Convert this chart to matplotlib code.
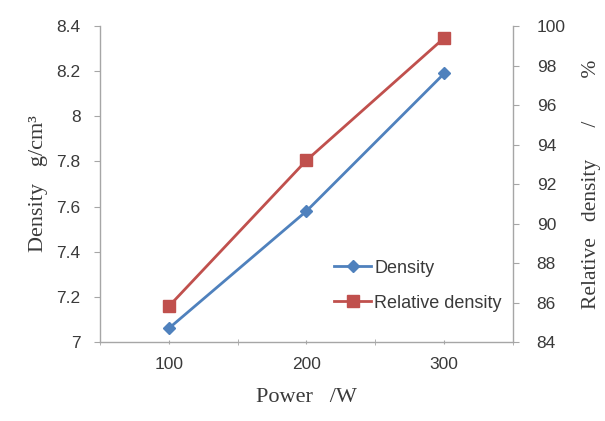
import matplotlib
matplotlib.use("Agg")
import matplotlib.pyplot as plt
from matplotlib.ticker import FixedLocator, NullFormatter

categories = ["100", "200", "300"]
density = [7.06, 7.58, 8.19]
relative_density = [85.8, 93.2, 99.4]
left_ticks = [7, 7.2, 7.4, 7.6, 7.8, 8, 8.2, 8.4]
left_tick_labels = ["7", "7.2", "7.4", "7.6", "7.8", "8", "8.2", "8.4"]
right_ticks = [84, 86, 88, 90, 92, 94, 96, 98, 100]

blue = "#4F81BD"
red = "#C0504D"
grey = "#A6A6A6"
txt = "#3A3A3A"
tickfont = "Liberation Sans"
labelfont = "Liberation Serif"
fs = 12.5

fig = plt.figure(figsize=(6.05, 4.21), dpi=100)
ax = fig.add_axes([0.165, 0.1876, 0.683, 0.7504])
ax2 = ax.twinx()

x = list(range(1, len(categories) + 1))
l1, = ax.plot(x, density, color=blue, lw=2, marker="D", markersize=6, label="Density")
l2, = ax2.plot(x, relative_density, color=red, lw=2, marker="s", markersize=8, label="Relative density")

ax.set_xlim(0.5, len(categories) + 0.5)
ax.set_ylim(7, 8.4)
ax2.set_ylim(84, 100)
ax.set_yticks(left_ticks)
ax.set_yticklabels(left_tick_labels)
ax2.set_yticks(right_ticks)
ax.set_xticks(x)
ax.set_xticklabels(categories)
ax.xaxis.set_minor_locator(FixedLocator([i + 0.5 for i in range(0, len(categories) + 1)]))
ax.xaxis.set_minor_formatter(NullFormatter())
ax.tick_params(axis="x", which="major", length=3, color=grey, direction="inout", pad=9)
ax.tick_params(axis="x", which="minor", length=4, color=grey, direction="inout")

for a in (ax, ax2):
    a.spines["top"].set_visible(False)
    for s in ("left", "right", "bottom"):
        a.spines[s].set_color(grey)
        a.spines[s].set_linewidth(1)
    a.tick_params(axis="y", length=4, color=grey, labelsize=fs, labelcolor=txt)
    a.tick_params(axis="x", labelsize=fs, labelcolor=txt)
    for lab in a.get_yticklabels() + a.get_xticklabels():
        lab.set_fontfamily(tickfont)

ax.tick_params(axis="y", pad=10)
ax2.tick_params(axis="y", pad=13)
ax2.spines["left"].set_visible(False)
ax.spines["right"].set_visible(False)
ax2.spines["bottom"].set_visible(False)

ax.set_ylabel("Density   g/cm³", fontfamily=labelfont, fontsize=16, color=txt, labelpad=6)
ax2.set_ylabel("Relative   density      /        %", fontfamily=labelfont, fontsize=15.5,
               color=txt, labelpad=12)
ax.set_xlabel("Power   /W", fontfamily=labelfont, fontsize=16, color=txt, labelpad=12)

fig.legend(handles=[l1, l2], loc="upper left", bbox_to_anchor=(0.526, 0.422),
           bbox_transform=fig.transFigure, frameon=False, handlelength=2.0,
           handletextpad=0.2, labelspacing=1.0, prop={"family": tickfont, "size": 13},
           labelcolor=txt)

fig.savefig("out.png", dpi=100)
